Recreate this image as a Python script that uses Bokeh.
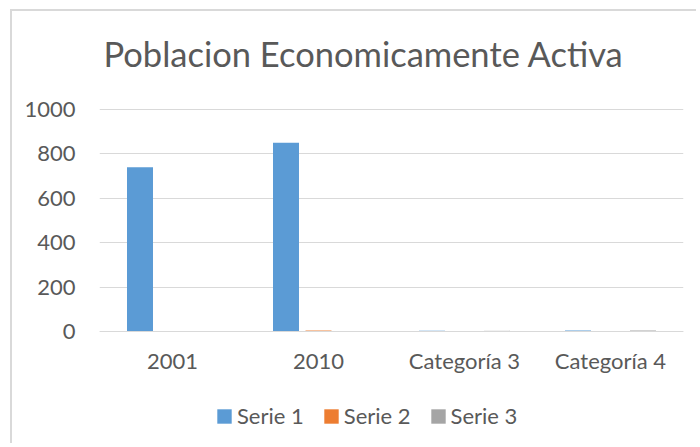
from bokeh.plotting import figure
from bokeh.models import (ColumnDataSource, FactorRange, Range1d, FixedTicker,
                          Legend, LegendItem)
from bokeh.transform import dodge
from bokeh.embed import file_html
from bokeh.resources import INLINE

categories = ["2001", "2010", "Categoría 3", "Categoría 4"]
serie1 = [740, 850, 3.5, 4.5]
serie2 = [2.4, 4.4, 1.8, 2.8]
serie3 = [2, 2, 3, 5]
series_names = ["Serie 1", "Serie 2", "Serie 3"]
colors = ["#5b9bd5", "#ed7d31", "#a5a5a5"]
y_ticks = [0, 200, 400, 600, 800, 1000]

FONT = "Lato"
TXT = "#595959"
GRID = "#d9d9d9"

src = ColumnDataSource(dict(cat=categories, s1=serie1, s2=serie2, s3=serie3))

# frame extends past the value axis to hold the category labels and legend
p = figure(width=686, height=434, x_range=FactorRange(*categories),
           y_range=Range1d(-513.5, 1076.6), output_backend="svg", toolbar_location=None,
           min_border_left=87, min_border_right=15, min_border_top=81,
           min_border_bottom=0)
p.margin = (9, 0, 0, 10)
p.styles = {"border-left": "2px solid #d9d9d9", "border-top": "2px solid #d9d9d9"}
p.outline_line_color = None
p.background_fill_color = "white"
p.border_fill_color = "white"

p.title.text = "Poblacion Economicamente Activa"
p.title.text_font = FONT
p.title.text_font_size = "34.5px"
p.title.text_font_style = "normal"
p.title.text_color = TXT
p.title.align = "left"
p.title.offset = 4
p.title.standoff = 38

renderers = []
for key, off, col in zip(["s1", "s2", "s3"], [-0.2226, 0.0, 0.2226], colors):
    r = p.vbar(x=dodge("cat", off, range=p.x_range), top=key, width=0.178,
               source=src, fill_color=col, line_color=None)
    renderers.append(r)

p.xgrid.grid_line_color = None
p.ygrid.grid_line_color = GRID
p.ygrid.grid_line_width = 1
p.yaxis.ticker = FixedTicker(ticks=y_ticks)

p.yaxis.axis_line_color = None
p.yaxis.major_tick_line_color = None
p.yaxis.minor_tick_line_color = None
p.yaxis.major_tick_in = 0
p.yaxis.major_tick_out = 0
p.yaxis.major_label_standoff = 24
p.yaxis.major_label_text_font = FONT
p.yaxis.major_label_text_font_size = "22px"
p.yaxis.major_label_text_color = TXT

p.xaxis.fixed_location = 0
p.xaxis.axis_line_color = GRID
p.xaxis.axis_line_width = 1
p.xaxis.major_tick_line_color = None
p.xaxis.minor_tick_line_color = None
p.xaxis.major_tick_in = 0
p.xaxis.major_tick_out = 0
p.xaxis.major_label_standoff = 15
p.xaxis.major_label_text_font = FONT
p.xaxis.major_label_text_font_size = "22px"
p.xaxis.major_label_text_color = TXT

legend = Legend(items=[LegendItem(label=n, renderers=[r]) for n, r in zip(series_names, renderers)],
                orientation="horizontal", location=(116, 16),
                glyph_width=18, glyph_height=18, label_standoff=4, spacing=18,
                padding=0, margin=0, border_line_color=None,
                background_fill_alpha=0,
                label_text_font=FONT, label_text_font_size="22px",
                label_text_color=TXT)
p.add_layout(legend)

open("out.html", "w").write(file_html(p, INLINE))
